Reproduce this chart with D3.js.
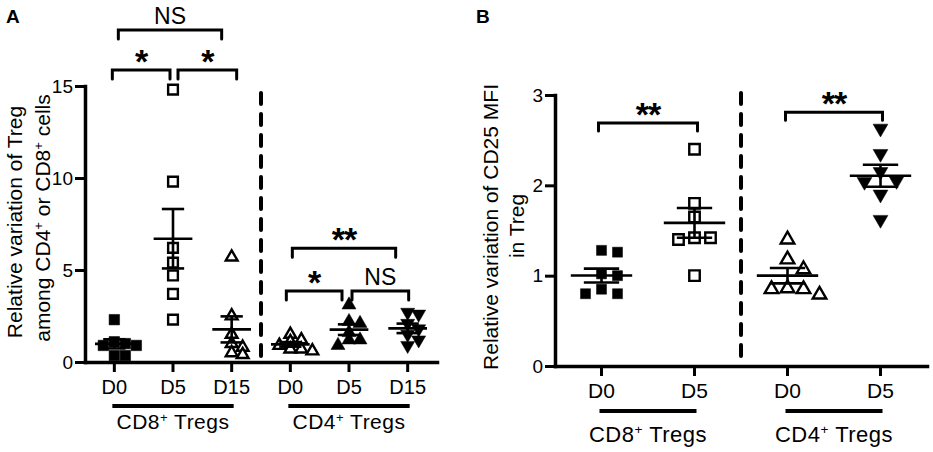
<!DOCTYPE html>
<html>
<head>
<meta charset="utf-8">
<script src="https://cdn.jsdelivr.net/npm/d3@7"></script>
<style>
  body { margin: 0; background: #fff; }
</style>
</head>
<body>
<svg id="chart" width="933" height="452"></svg>
<script>
// values, seven animals per column

var daysA = ['D0', 'D5', 'D15'];
var daysB = ['D0', 'D5'];
var groups = ['CD8', 'CD4'];
var ticksA = [0, 5, 10, 15];
var ticksB = [0, 1, 2, 3];

// panel A: relative variation of Treg among CD4+ or CD8+ cells
var a_cd8_d0 = [2.3, 1.1, 1.0, 0.9, 0.9, 0.35, 0.35];
var a_cd8_d5 = [14.8, 9.8, 6.2, 5.4, 4.7, 3.7, 2.3];
var a_cd8_d15 = [5.7, 2.5, 1.5, 1.0, 0.8, 0.5, 0.4];
var a_cd4_d0 = [1.5, 1.2, 1.1, 0.9, 0.7, 0.7, 0.6];
var a_cd4_d5 = [3.1, 2.2, 2.1, 1.6, 1.2, 1.2, 0.9];
var a_cd4_d15 = [2.7, 2.6, 2.1, 1.8, 1.5, 1.2, 0.9];

// panel B: relative variation of CD25 MFI in Treg
var b_cd8_d0 = [1.28, 1.26, 1.02, 1.0, 0.85, 0.8, 0.8];
var b_cd8_d5 = [2.4, 1.8, 1.65, 1.42, 1.42, 1.4, 1.0];
var b_cd4_d0 = [1.4, 1.18, 1.07, 0.86, 0.85, 0.85, 0.79];
var b_cd4_d5 = [2.63, 2.35, 2.15, 2.05, 2.04, 1.9, 1.62];

// significance brackets: from / to column, label, height in axis units
var sigA = [
  { from: 0, to: 1, label: '*', level: 15.87, inset: [-2, -3] },
  { from: 1, to: 2, label: '*', level: 15.87, inset: [5, 5] },
  { from: 0, to: 2, label: 'NS', level: 18.04, inset: [4, -10] },
  { from: 3, to: 5, label: '**', level: 6.18, inset: [2, -12] },
  { from: 3, to: 4, label: '*', level: 3.86, inset: [-4, -7] },
  { from: 4, to: 5, label: 'NS', level: 3.86, inset: [3, 1] }
];
var sigB = [
  { from: 0, to: 1, label: '**', level: 2.69, inset: [-3, 3] },
  { from: 2, to: 3, label: '**', level: 2.81, inset: [-2, 2] }
];

var FONT = '"Liberation Sans", Arial, Helvetica, sans-serif';
var svg = d3.select('#chart');

var colsA = [
  { group: 'CD8', day: daysA[0], values: a_cd8_d0, shape: 'sq' },
  { group: 'CD8', day: daysA[1], values: a_cd8_d5, shape: 'osq' },
  { group: 'CD8', day: daysA[2], values: a_cd8_d15, shape: 'otri' },
  { group: 'CD4', day: daysA[0], values: a_cd4_d0, shape: 'otri' },
  { group: 'CD4', day: daysA[1], values: a_cd4_d5, shape: 'tri' },
  { group: 'CD4', day: daysA[2], values: a_cd4_d15, shape: 'itri' }
];
var colsB = [
  { group: 'CD8', day: daysB[0], values: b_cd8_d0, shape: 'sq' },
  { group: 'CD8', day: daysB[1], values: b_cd8_d5, shape: 'osq' },
  { group: 'CD4', day: daysB[0], values: b_cd4_d0, shape: 'otri' },
  { group: 'CD4', day: daysB[1], values: b_cd4_d5, shape: 'itri' }
];

// spread points that would overlap, like a column scatter
function dodge(values, y, step, gap) {
  var order = values.map(function (v, i) { return i; })
    .sort(function (a, b) { return values[b] - values[a]; });
  var placed = [];
  order.forEach(function (i) {
    var py = y(values[i]);
    for (var k = 0; k < 20; k++) {
      var dx = (k % 2 ? 1 : -1) * Math.ceil(k / 2) * step;
      var hit = placed.some(function (q) {
        return Math.abs(q.dx - dx) < step - 0.1 && Math.abs(q.y - py) < gap;
      });
      if (!hit) break;
    }
    placed.push({ v: values[i], dx: dx, y: py });
  });
  return placed;
}

// text pieces: plain strings, '+' drawn as superscript
function richText(sel, parts) {
  var raised = false;
  parts.forEach(function (s) {
    var t = sel.append('tspan');
    if (s == '+') {
      t.text('+').attr('font-size', '0.62em').attr('dy', '-0.55em');
      raised = true;
    } else {
      t.text(s);
      if (raised) t.attr('dy', '0.34em');
      raised = false;
    }
  });
}

function drawPanel(p) {
  var keys = p.cols.map(function (c) { return c.group + '-' + c.day; });
  var x = d3.scaleBand().domain(keys).range([p.x0, p.x1]);
  var y = d3.scaleLinear().domain([0, p.ymax]).range([p.y0, p.y1]);
  var bw = x.bandwidth();
  var g = svg.append('g');

  // dashed separator between the two groups
  var sepX = x(keys[keys.length / 2]);
  g.append('line')
    .attr('x1', sepX).attr('x2', sepX)
    .attr('y1', p.sepTop).attr('y2', p.y0)
    .attr('stroke', '#000').attr('stroke-width', 4)
    .attr('stroke-dasharray', '11,10').attr('stroke-linecap', 'round');

  // points
  p.cols.forEach(function (c, i) {
    var cx = x(keys[i]) + bw / 2;
    var pts = dodge(c.values, y, p.step, p.gap);
    var open = c.shape == 'osq' || c.shape == 'otri';
    var isSq = c.shape == 'sq' || c.shape == 'osq';
    var size = isSq ? (open ? p.sqOpen : p.sq) : (open ? p.triOpen : p.tri);
    var path = d3.symbol(isSq ? d3.symbolSquare : d3.symbolTriangle, size)();
    g.selectAll(null).data(pts).enter().append('path')
      .attr('d', path)
      .attr('transform', function (d) {
        return 'translate(' + (cx + d.dx) + ',' + d.y + ')' + (c.shape == 'itri' ? ' rotate(180)' : '');
      })
      .attr('fill', open ? '#fff' : '#000')
      .attr('stroke', '#000')
      .attr('stroke-width', open ? 2.4 : 0.5);
  });

  // mean and SEM
  p.cols.forEach(function (c, i) {
    var cx = x(keys[i]) + bw / 2;
    var m = d3.mean(c.values);
    var sem = d3.deviation(c.values) / Math.sqrt(c.values.length);
    var mw = bw * 0.33, cw = bw * 0.19;
    var lines = [
      [cx - mw, y(m), cx + mw, y(m)],
      [cx, y(m - sem), cx, y(m + sem)],
      [cx - cw, y(m + sem), cx + cw, y(m + sem)],
      [cx - cw, y(m - sem), cx + cw, y(m - sem)]
    ];
    g.selectAll(null).data(lines).enter().append('line')
      .attr('x1', function (d) { return d[0]; })
      .attr('y1', function (d) { return d[1]; })
      .attr('x2', function (d) { return d[2]; })
      .attr('y2', function (d) { return d[3]; })
      .attr('stroke', '#000').attr('stroke-width', 2.6);
  });

  // axes
  var ya = g.append('g')
    .attr('transform', 'translate(' + p.x0 + ',0)')
    .call(d3.axisLeft(y).tickValues(p.ticks).tickFormat(d3.format('d'))
      .tickSize(10).tickSizeOuter(0).tickPadding(p.yPad));
  var xa = g.append('g')
    .attr('transform', 'translate(0,' + p.y0 + ')')
    .call(d3.axisBottom(x).tickSize(10).tickSizeOuter(0).tickPadding(p.xPad)
      .tickFormat(function (k) { return k.split('-')[1]; }));
  ya.selectAll('.tick text').style('font-size', p.yFont + 'px');
  xa.selectAll('.tick text').style('font-size', p.xFont + 'px');
  [ya, xa].forEach(function (ax) {
    ax.selectAll('.tick text').style('font-family', FONT).attr('fill', '#000');
    ax.select('.domain').attr('stroke-width', 3.5).attr('stroke-linecap', 'square');
    ax.selectAll('.tick line').attr('stroke-width', 3);
  });

  // group underlines and labels
  groups.forEach(function (name, gi) {
    var n = keys.length / 2;
    var xa0 = x(keys[gi * n]) + bw / 2 - 2;
    var xa1 = x(keys[gi * n + n - 1]) + bw / 2 + 2;
    g.append('line')
      .attr('x1', xa0).attr('x2', xa1)
      .attr('y1', p.groupLineY).attr('y2', p.groupLineY)
      .attr('stroke', '#000').attr('stroke-width', 4);
    g.append('text')
      .attr('x', (xa0 + xa1) / 2).attr('y', p.groupTextY)
      .attr('text-anchor', 'middle')
      .style('font-family', FONT).style('font-size', p.groupFont + 'px')
      .attr('letter-spacing', 0.5)
      .call(richText, [name, '+', ' Tregs']);
  });

  // significance brackets
  p.sig.forEach(function (b) {
    var xl = x(keys[b.from]) + bw / 2 + b.inset[0];
    var xr = x(keys[b.to]) + bw / 2 + b.inset[1];
    var yy = y(b.level);
    g.append('path')
      .attr('d', 'M' + xl + ',' + (yy + p.leg) + 'V' + yy + 'H' + xr + 'V' + (yy + p.leg))
      .attr('fill', 'none').attr('stroke', '#000').attr('stroke-width', 3)
      .attr('stroke-linecap', 'round');
    var stars = b.label.indexOf('*') >= 0;
    g.append('text')
      .attr('x', (xl + xr) / 2)
      .attr('y', stars ? yy + 3 : yy - 6)
      .attr('text-anchor', 'middle')
      .style('font-family', FONT)
      .style('font-weight', stars ? 'bold' : 'normal')
      .style('font-size', (stars ? 34 : 23) + 'px')
      .attr('letter-spacing', stars ? -1 : 0)
      .text(b.label);
  });

  // y title, one text per line
  p.title.forEach(function (t) {
    g.append('text')
      .attr('transform', 'translate(' + t.x + ',' + t.y + ') rotate(-90)')
      .attr('text-anchor', 'middle')
      .style('font-family', FONT).style('font-size', '21px')
      .call(richText, t.parts);
  });

  svg.append('text')
    .attr('x', p.letterX).attr('y', 23)
    .style('font-family', FONT).style('font-weight', 'bold').style('font-size', '19px')
    .text(p.letter);
}

drawPanel({
  letter: 'A', letterX: 6,
  cols: colsA, sig: sigA, ticks: ticksA, ymax: 15,
  x0: 85, x1: 437, y0: 362, y1: 86, sepTop: 93,
  step: 11, gap: 7, sq: 110, sqOpen: 95, tri: 85, triOpen: 60,
  yPad: 2, xPad: 8, yFont: 19, xFont: 20,
  groupLineY: 406, groupTextY: 429, groupFont: 21, leg: 9,
  title: [
    { x: 22, y: 222, parts: ['Relative variation of Treg'] },
    { x: 50, y: 218, parts: ['among CD4', '+', ' or CD8', '+', ' cells'] }
  ]
});

drawPanel({
  letter: 'B', letterX: 476,
  cols: colsB, sig: sigB, ticks: ticksB, ymax: 3,
  x0: 555, x1: 927, y0: 366, y1: 95, sepTop: 93,
  step: 16, gap: 11, sq: 100, sqOpen: 110, tri: 95, triOpen: 80,
  yPad: 2, xPad: 7, yFont: 19, xFont: 21,
  groupLineY: 411, groupTextY: 442, groupFont: 22, leg: 8,
  title: [
    { x: 498, y: 227, parts: ['Relative variation of CD25 MFI'] },
    { x: 524, y: 226, parts: ['in Treg'] }
  ]
});
</script>
</body>
</html>
